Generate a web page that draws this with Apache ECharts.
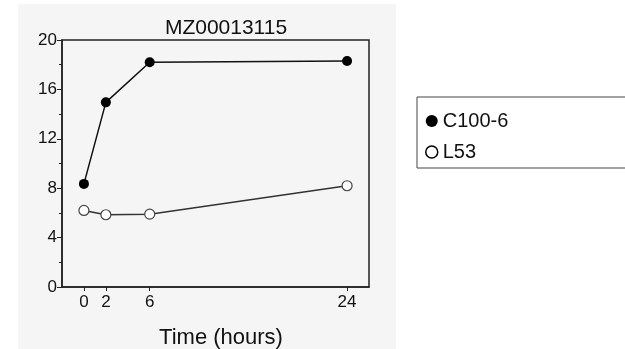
<!DOCTYPE html>
<html>
<head>
<meta charset="utf-8">
<script src="https://cdn.jsdelivr.net/npm/echarts@6/dist/echarts.min.js"></script>
<style>
  html, body { margin: 0; padding: 0; background: #fff; }
  #main { width: 625px; height: 349px; }
</style>
</head>
<body>
<div id="main"></div>
<script>
// time points (hours) and values
var hours = [0, 2, 6, 24];
var c100 = [8.35, 14.95, 18.2, 18.3];
var l53 = [6.2, 5.85, 5.9, 8.2];
var xTicks = [0, 2, 6, 24];

function pairs(xs, ys) {
    return xs.map(function (x, i) { return [x, ys[i]]; });
}

var myChart = echarts.init(document.getElementById('main'));
var option = {
    animation: false,
    textStyle: {fontFamily: 'Liberation Sans, Arial, sans-serif'},
    graphic: [{
        type: 'rect',
        z: -10,
        silent: true,
        shape: {x: 18, y: 4, width: 378, height: 345},
        style: {fill: '#f5f5f5'}
    }],
    title: {
        text: 'MZ00013115',
        left: 221,
        textAlign: 'center',
        top: 13,
        textStyle: {fontSize: 21, fontWeight: 'normal', color: '#111'}
    },
    legend: {
        orient: 'vertical',
        left: 417,
        top: 97,
        padding: [14, 200, 6, 8],
        itemGap: 11,
        itemWidth: 12,
        itemHeight: 12,
        borderColor: '#444',
        borderWidth: 1,
        textStyle: {fontSize: 20, color: '#111'},
        data: [
            {name: 'C100-6', icon: 'circle', itemStyle: {color: '#000', borderWidth: 0}},
            {name: 'L53', icon: 'path://M50,18A32,32,0,1,1,49.99,18Z', itemStyle: {color: '#fff', borderColor: '#000', borderWidth: 1.5}}
        ]
    },
    grid: {
        left: 62,
        top: 40,
        right: 256,
        bottom: 62,
        outerBoundsMode: 'none',
        containLabel: false,
        show: true,
        borderColor: '#222',
        borderWidth: 1.5,
        backgroundColor: 'transparent'
    },
    xAxis: {
        type: 'value',
        min: -2,
        max: 26,
        name: 'Time (hours)',
        nameLocation: 'middle',
        nameGap: 40,
        nameTextStyle: {fontSize: 22, color: '#111', padding: [0, 0, 0, 11]},
        splitLine: {show: false},
        axisLine: {onZero: false, lineStyle: {color: '#222', width: 1.5}},
        axisTick: {customValues: xTicks, length: 4, lineStyle: {color: '#222'}},
        axisLabel: {customValues: xTicks, fontSize: 17, color: '#111', margin: 7}
    },
    yAxis: {
        type: 'value',
        min: 0,
        max: 20,
        interval: 4,
        splitLine: {show: false},
        axisLine: {show: true, onZero: false, lineStyle: {color: '#222', width: 1.5}},
        axisTick: {show: true, length: 5, lineStyle: {color: '#222'}},
        minorTick: {show: true, splitNumber: 2, length: 3, lineStyle: {color: '#222'}},
        axisLabel: {fontSize: 17, color: '#111', margin: 5}
    },
    series: [
        {
            name: 'C100-6',
            type: 'line',
            data: pairs(hours, c100),
            symbol: 'circle',
            symbolSize: 10,
            lineStyle: {color: '#111', width: 1.5},
            itemStyle: {color: '#000'}
        },
        {
            name: 'L53',
            type: 'line',
            data: pairs(hours, l53),
            symbol: 'circle',
            symbolSize: 10,
            lineStyle: {color: '#333', width: 1.5},
            itemStyle: {color: '#fff', borderColor: '#444', borderWidth: 1.2}
        }
    ]
};
myChart.setOption(option);
</script>
</body>
</html>
